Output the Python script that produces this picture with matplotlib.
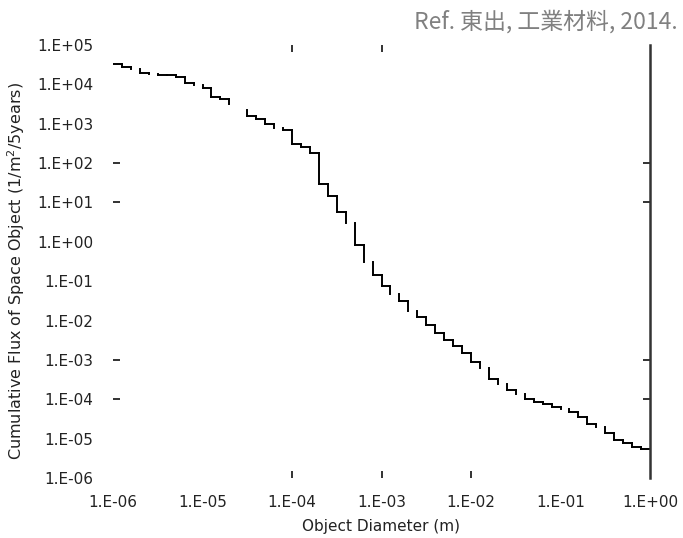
import numpy as np
import matplotlib
matplotlib.use("Agg")
import matplotlib.pyplot as plt
from matplotlib.ticker import FixedLocator, NullFormatter

# object diameter bin edges (m), ten bins per decade
diameter_edges = [
    1.00e-6, 1.26e-6, 1.58e-6, 2.00e-6, 2.51e-6, 3.16e-6, 3.98e-6, 5.01e-6, 6.31e-6, 7.94e-6,
    1.00e-5, 1.26e-5, 1.58e-5, 2.00e-5, 2.51e-5, 3.16e-5, 3.98e-5, 5.01e-5, 6.31e-5, 7.94e-5,
    1.00e-4, 1.26e-4, 1.58e-4, 2.00e-4, 2.51e-4, 3.16e-4, 3.98e-4, 5.01e-4, 6.31e-4, 7.94e-4,
    1.00e-3, 1.26e-3, 1.58e-3, 2.00e-3, 2.51e-3, 3.16e-3, 3.98e-3, 5.01e-3, 6.31e-3, 7.94e-3,
    1.00e-2, 1.26e-2, 1.58e-2, 2.00e-2, 2.51e-2, 3.16e-2, 3.98e-2, 5.01e-2, 6.31e-2, 7.94e-2,
    1.00e-1, 1.26e-1, 1.58e-1, 2.00e-1, 2.51e-1, 3.16e-1, 3.98e-1, 5.01e-1, 6.31e-1, 7.94e-1,
    1.00e0,
]

# cumulative flux per bin (1/m^2/5years)
flux = [
    3.2e4, 2.7e4, 2.4e4, 2.0e4, 1.8e4, 1.7e4, 1.7e4, 1.5e4, 1.1e4, 9.4e3,
    7.9e3, 4.9e3, 4.2e3, 3.2e3, 2.2e3, 1.6e3, 1.3e3, 1.0e3, 8.0e2, 6.9e2,
    3.1e2, 2.5e2, 1.8e2, 29, 15, 5.8, 3.0, 0.83, 0.31, 0.14,
    0.077, 0.046, 0.031, 0.017, 0.0125, 7.7e-3, 4.7e-3, 3.2e-3, 2.3e-3, 1.5e-3,
    9.0e-4, 6.2e-4, 3.3e-4, 2.4e-4, 1.7e-4, 1.4e-4, 1.0e-4, 8.4e-5, 7.4e-5, 6.2e-5,
    5.5e-5, 4.8e-5, 3.6e-5, 2.3e-5, 2.0e-5, 1.4e-5, 9.5e-6, 7.7e-6, 6.2e-6, 5.5e-6,
]

# bins whose step is missing in the original figure
faded_bins = [2, 4, 9, 13, 14, 18, 26, 28, 31, 33, 41, 43, 45, 50, 54]

x_ticks = [1e-6, 1e-5, 1e-4, 1e-3, 1e-2, 1e-1, 1e0]
x_labels = ["1.E-06", "1.E-05", "1.E-04", "1.E-03", "1.E-02", "1.E-01", "1.E+00"]
y_ticks = [1e-6, 1e-5, 1e-4, 1e-3, 1e-2, 1e-1, 1e0, 1e1, 1e2, 1e3, 1e4, 1e5]
y_labels = ["1.E-06", "1.E-05", "1.E-04", "1.E-03", "1.E-02", "1.E-01",
            "1.E+00", "1.E+01", "1.E+02", "1.E+03", "1.E+04", "1.E+05"]

W, H = 683, 538
fig = plt.figure(figsize=(W / 100, H / 100), dpi=100)
ax = fig.add_axes([113 / W, 1 - 478 / H, (650 - 113) / W, (478 - 45) / H])

n = len(flux)
shown = [k not in faded_bins for k in range(n)]
treads = ax.hlines([flux[k] for k in range(n) if shown[k]],
                   [diameter_edges[k] for k in range(n) if shown[k]],
                   [diameter_edges[k + 1] for k in range(n) if shown[k]],
                   color="black", linewidth=1.4)
rx, ry0, ry1 = [], [], []
for k in range(n - 1):
    if shown[k] or shown[k + 1]:
        rx.append(diameter_edges[k + 1])
        ry0.append(flux[k])
        ry1.append(flux[k + 1])
risers = ax.vlines(rx, ry0, ry1, color="black", linewidth=1.4)
treads.set_capstyle("projecting")
risers.set_capstyle("projecting")

ax.set_xscale("log")
ax.set_yscale("log")
ax.set_xlim(1e-6, 1e0)
ax.set_ylim(1e-6, 1e5)

for s in ["left", "top", "bottom"]:
    ax.spines[s].set_visible(False)
ax.spines["right"].set_linewidth(1.8)
ax.spines["right"].set_color("#333333")

ax.set_xticks(x_ticks)
ax.set_xticklabels(x_labels)
ax.set_yticks(y_ticks)
ax.set_yticklabels(y_labels)
ax.tick_params(which="major", length=0, labelsize=11, colors="#222222")
ax.tick_params(axis="y", which="major", pad=14)
ax.tick_params(axis="x", which="major", pad=12)

# sparse inward tick marks
ax.xaxis.remove_overlapping_locs = False
ax.yaxis.remove_overlapping_locs = False
ax.xaxis.set_minor_locator(FixedLocator([1e-4, 1e-3, 1e-2]))
ax.yaxis.set_minor_locator(FixedLocator([1e-4, 1e-3, 1e1, 1e2]))
ax.xaxis.set_minor_formatter(NullFormatter())
ax.yaxis.set_minor_formatter(NullFormatter())
ax.tick_params(which="minor", direction="in", length=5, width=1.3, color="#222222",
               left=True, right=True, bottom=True, top=False)
top = ax.secondary_xaxis("top")
top.set_xticks([])
top.xaxis.set_minor_locator(FixedLocator([1e-4, 1e-3]))
top.xaxis.set_minor_formatter(NullFormatter())
top.tick_params(which="minor", direction="in", length=5, width=1.3, color="#222222")
top.spines["top"].set_visible(False)

ax.set_xlabel("Object Diameter (m)", fontsize=11, color="#222222")
ax.xaxis.set_label_coords(0.5, -0.095)
ax.set_ylabel("Cumulative Flux of Space Object (1/m$^2$/5years)", fontsize=11.5, color="#222222")
ax.yaxis.set_label_coords(-0.160, 0.478)

fig.text(678 / W, 1 - 22 / H, "Ref. 東出, 工業材料, 2014.", ha="right", va="center",
         fontsize=16.5, color="#808080", family=["Noto Sans CJK JP", "DejaVu Sans"])

fig.savefig("out.png", dpi=100)
